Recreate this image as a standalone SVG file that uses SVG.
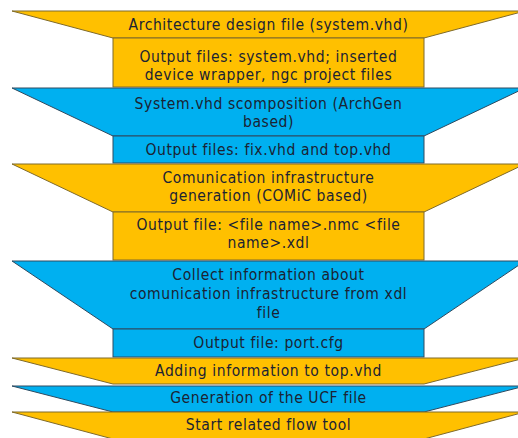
<svg xmlns="http://www.w3.org/2000/svg" width="518" height="438" viewBox="0 0 518 438">
<style>
.o{fill:#FFC000;stroke:#7F6A2A;stroke-width:1}
.b{fill:#00B0F0;stroke:#2E4A60;stroke-width:1}
text{font-family:"DejaVu Sans Condensed","DejaVu Sans",sans-serif;font-stretch:condensed;font-size:15.5px;letter-spacing:0.6px;fill:#1B2333;text-anchor:middle}
</style>
<rect width="518" height="438" fill="#fff"/>
<g id="step1"><polygon class="o" points="12,11 525,11 424,38 113,38"/><text x="268.5" y="30">Architecture design file (system.vhd)</text></g>
<g id="out1"><rect class="o" x="113" y="38" width="311" height="49"/><text x="268.5" y="62">Output files: system.vhd; inserted</text><text x="268.5" y="80">device wrapper, ngc project files</text></g>
<g id="step2"><polygon class="b" points="12,88 525,88 424,136 113,136"/><text x="268.5" y="109">System.vhd scomposition (ArchGen</text><text x="268.5" y="127">based)</text></g>
<g id="out2"><rect class="b" x="113" y="136" width="311" height="27"/><text x="268.5" y="155">Output files: fix.vhd and top.vhd</text></g>
<g id="step3"><polygon class="o" points="12,164 525,164 424,212 113,212"/><text x="268.5" y="183">Comunication infrastructure</text><text x="268.5" y="201">generation (COMiC based)</text></g>
<g id="out3"><rect class="o" x="113" y="212" width="311" height="48"/><text x="268.5" y="230">Output file: &lt;file name&gt;.nmc &lt;file</text><text x="268.5" y="248">name&gt;.xdl</text></g>
<g id="step4"><polygon class="b" points="12,261 525,261 424,329 113,329"/><text x="268.5" y="280">Collect information about</text><text x="268.5" y="299">comunication infrastructure from xdl</text><text x="268.5" y="318">file</text></g>
<g id="out4"><rect class="b" x="113" y="329" width="311" height="28"/><text x="268.5" y="348">Output file: port.cfg</text></g>
<g id="step5"><polygon class="o" points="12,358 525,358 424,384 113,384"/><text x="268.5" y="376">Adding information to top.vhd</text></g>
<g id="step6"><polygon class="b" points="12,386 525,386 424,412 113,412"/><text x="268.5" y="403">Generation of the UCF file</text></g>
<g id="step7"><polygon class="o" points="12,412 525,412 424,439 113,439"/><text x="268.5" y="430">Start related flow tool</text></g>
<g id="connectors"></g>
</svg>
